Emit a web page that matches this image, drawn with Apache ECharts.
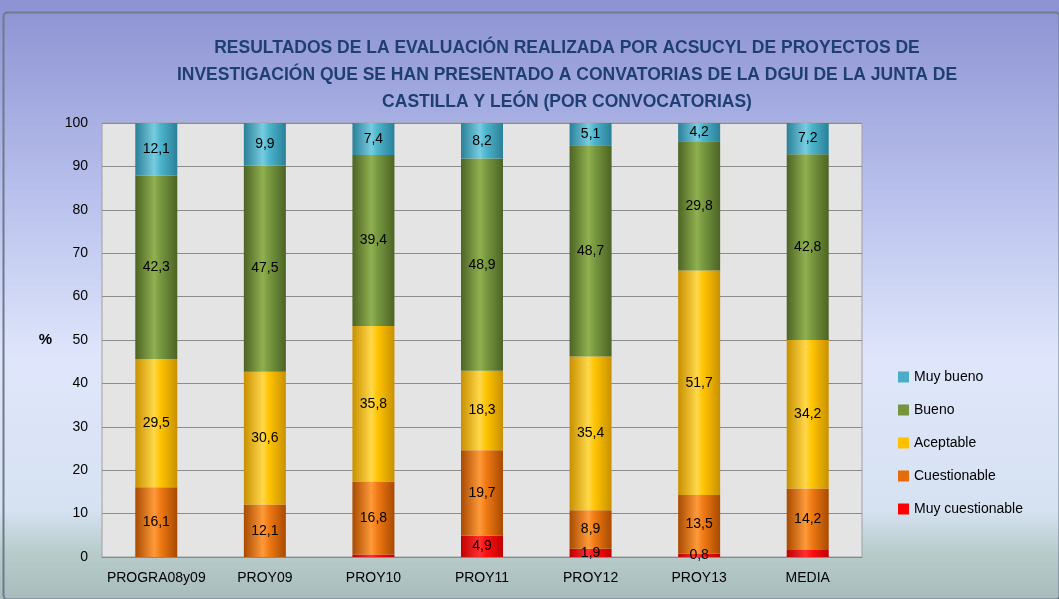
<!DOCTYPE html>
<html>
<head>
<meta charset="utf-8">
<script src="https://cdn.jsdelivr.net/npm/echarts@6/dist/echarts.min.js"></script>
<style>
  html, body { margin: 0; padding: 0; background: #fff; }
  #chart { width: 1059px; height: 599px; }
</style>
</head>
<body>
<div id="chart"></div>
<script>
const categories = ['PROGRA08y09', 'PROY09', 'PROY10', 'PROY11', 'PROY12', 'PROY13', 'MEDIA']
const muyCuestionable = [0, 0, 0.6, 4.9, 1.9, 0.8, 1.6]
const cuestionable = [16.1, 12.1, 16.8, 19.7, 8.9, 13.5, 14.2]
const aceptable = [29.5, 30.6, 35.8, 18.3, 35.4, 51.7, 34.2]
const bueno = [42.3, 47.5, 39.4, 48.9, 48.7, 29.8, 42.8]
const muyBueno = [12.1, 9.9, 7.4, 8.2, 5.1, 4.2, 7.2]
const yTicks = [0, 10, 20, 30, 40, 50, 60, 70, 80, 90, 100]

const fontFam = "'Liberation Sans', 'DejaVu Sans', sans-serif"

// cylinder look: dark edges, light middle
function tube(dark, mid, light) {
  return new echarts.graphic.LinearGradient(0, 0, 1, 0, [
    { offset: 0, color: dark },
    { offset: 0.45, color: light },
    { offset: 0.6, color: mid },
    { offset: 1, color: dark }
  ])
}

function makeSeries(name, values, colors, legendColor, hideSmall) {
  return {
    name: name,
    type: 'bar',
    stack: 'total',
    barWidth: 42,
    data: values.map(v => {
      let item = { value: v }
      if (v === 0 || (hideSmall && v < 0.8) || (hideSmall && v === 1.6)) {
        item.label = { show: false }
      }
      return item
    }),
    itemStyle: { color: tube(colors[0], colors[1], colors[2]) },
    label: {
      show: true,
      position: 'inside',
      color: '#000',
      fontSize: 14,
      fontFamily: fontFam,
      formatter: p => String(p.value).replace('.', ',')
    },
    emphasis: { disabled: true },
    legendColor: legendColor
  }
}

const seriesList = [
  makeSeries('Muy cuestionable', muyCuestionable, ['#c00000', '#ff1010', '#ff3030'], '#FF0000', true),
  makeSeries('Cuestionable', cuestionable, ['#a84a00', '#f07a14', '#ff9a3a'], '#E46C0A', false),
  makeSeries('Aceptable', aceptable, ['#c89000', '#ffc400', '#ffd84a'], '#FFC000', false),
  makeSeries('Bueno', bueno, ['#4c6424', '#789840', '#90b050'], '#77933C', false),
  makeSeries('Muy bueno', muyBueno, ['#2a8098', '#4cb4cc', '#78cce0'], '#4BACC6', false)
]

const chart = echarts.init(document.getElementById('chart'))
chart.setOption({
  animation: false,
  backgroundColor: new echarts.graphic.LinearGradient(0, 0, 0, 1, [
    { offset: 0, color: '#8c92d2' },
    { offset: 0.35, color: '#bcc4ee' },
    { offset: 0.6, color: '#dfe6fb' },
    { offset: 0.85, color: '#d6e2f2' },
    { offset: 0.92, color: '#b8cccc' },
    { offset: 1, color: '#a8bcbc' }
  ]),
  title: {
    text: 'RESULTADOS DE LA EVALUACIÓN REALIZADA POR ACSUCYL DE PROYECTOS DE\nINVESTIGACIÓN QUE SE HAN PRESENTADO A CONVATORIAS DE LA DGUI DE LA JUNTA DE\nCASTILLA Y LEÓN (POR CONVOCATORIAS)',
    left: 562,
    top: 30,
    textAlign: 'center',
    textStyle: {
      color: '#1f3f73',
      fontSize: 17.5,
      fontWeight: 'bold',
      fontFamily: fontFam,
      lineHeight: 27
    }
  },
  legend: {
    orient: 'vertical',
    left: 893,
    top: 365,
    itemWidth: 11,
    itemHeight: 11,
    itemGap: 19,
    icon: 'rect',
    data: ['Muy bueno', 'Bueno', 'Aceptable', 'Cuestionable', 'Muy cuestionable'].map(n => ({
      name: n,
      itemStyle: { color: seriesList.find(s => s.name === n).legendColor }
    })),
    textStyle: { color: '#000', fontSize: 14, fontFamily: fontFam }
  },
  grid: {
    left: 102,
    right: 197,
    top: 123,
    bottom: 42,
    show: true,
    backgroundColor: '#e4e4e4',
    borderColor: '#a0a0a0',
    borderWidth: 1
  },
  xAxis: {
    type: 'category',
    data: categories,
    axisLine: { lineStyle: { color: '#888' } },
    axisTick: { show: false },
    axisLabel: { color: '#000', fontSize: 14, fontFamily: fontFam, margin: 14, interval: 0 }
  },
  yAxis: {
    type: 'value',
    min: yTicks[0],
    max: yTicks[yTicks.length - 1],
    interval: 10,
    name: '%',
    nameLocation: 'middle',
    nameRotate: 0,
    nameGap: 50,
    nameTextStyle: { color: '#000', fontSize: 15, fontWeight: 'bold', fontFamily: fontFam },
    axisLine: { show: false },
    axisTick: { show: false },
    axisLabel: { color: '#000', fontSize: 14, fontFamily: fontFam, margin: 14 },
    splitLine: { lineStyle: { color: '#8c8c8c', width: 1 } }
  },
  graphic: [
    {
      type: 'rect',
      left: 1,
      top: 10,
      shape: { width: 1056, height: 587, r: 4 },
      style: { fill: 'none', stroke: '#6f7a8a', lineWidth: 2 },
      silent: true
    }
  ],
  series: seriesList
})
</script>
</body>
</html>
